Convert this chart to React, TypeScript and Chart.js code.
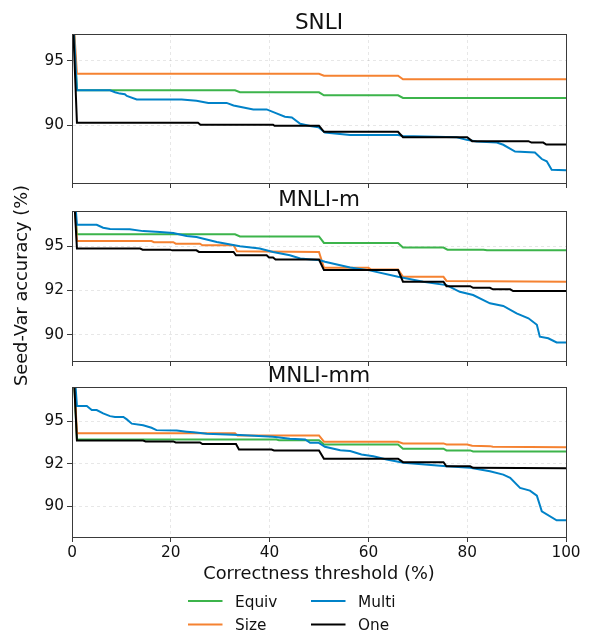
import React, { useEffect, useRef } from 'react';
import { Chart, registerables } from 'chart.js';

Chart.register(...registerables);

// ---------- data ----------
const seriesNames = ['Equiv', 'Size', 'Multi', 'One'];
const seriesColors = ['#3cb44b', '#f58231', '#0082c8', '#000000'];

const panelTitles = ['SNLI', 'MNLI-m', 'MNLI-mm'];
const xAxisTitle = 'Correctness threshold (%)';
const yAxisTitle = 'Seed-Var accuracy (%)';

const xTickValues = [0, 20, 40, 60, 80, 100];
const xTickLabels = ['0', '20', '40', '60', '80', '100'];

const snliTickValues = [90, 95];
const snliTickLabels = ['90', '95'];
const mnliTickValues = [90, 92.5, 95];
const mnliTickLabels = ['90', '92', '95'];

const snliRange = [85.55, 97.05];
const mnliMRange = [88.5, 97.0];
const mnliMMRange = [88.2, 97.0];

// SNLI
const snliEquivX = [0, 1, 33, 34, 50, 51, 66, 67, 100];
const snliEquivY = [100, 92.7, 92.7, 92.55, 92.55, 92.32, 92.32, 92.12, 92.12];
const snliSizeX = [0, 1, 50, 51, 66, 67, 100];
const snliSizeY = [100, 93.98, 93.98, 93.83, 93.83, 93.55, 93.55];
const snliMultiX = [0, 1, 7.7, 8.7, 9.7, 10.7, 11.1, 13.1, 22.2, 25.2, 27.6, 31.3, 32.7, 34.7, 36.7, 39.4, 41.4, 43.1, 44.5, 46.2, 48.2, 49.9, 51.2, 56.3, 66, 67, 77.9, 79.9, 81.9, 86, 87.3, 89.7, 93.7, 95.1, 96.1, 97.1, 100];
const snliMultiY = [100, 92.7, 92.7, 92.55, 92.45, 92.4, 92.27, 92.0, 92.0, 91.89, 91.73, 91.73, 91.53, 91.38, 91.23, 91.23, 90.92, 90.66, 90.6, 90.12, 89.95, 89.85, 89.44, 89.26, 89.26, 89.18, 89.08, 88.88, 88.75, 88.67, 88.5, 87.98, 87.9, 87.4, 87.22, 86.58, 86.53];
const snliOneX = [0, 1, 25.5, 26, 40.7, 41, 50, 51, 66, 67, 80, 81, 92.4, 93, 95.4, 96, 100];
const snliOneY = [100, 90.2, 90.2, 90.05, 90.05, 89.97, 89.97, 89.5, 89.5, 89.08, 89.08, 88.78, 88.78, 88.67, 88.67, 88.52, 88.52];

// MNLI-m
const mEquivX = [0, 1, 33, 34, 50, 51, 66, 67, 75.2, 76, 83.3, 84, 100];
const mEquivY = [100, 95.68, 95.68, 95.56, 95.56, 95.19, 95.19, 94.93, 94.93, 94.81, 94.81, 94.77, 94.77];
const mSizeX = [0, 1, 16.1, 16.6, 20.5, 21, 25.9, 26.4, 32.7, 33.4, 50, 51, 60, 60.5, 66, 67, 75.2, 75.8, 100];
const mSizeY = [100, 95.3, 95.3, 95.23, 95.23, 95.15, 95.15, 95.06, 95.06, 94.72, 94.68, 93.78, 93.78, 93.69, 93.69, 93.27, 93.27, 93.04, 92.99];
const mMultiX = [0, 1, 5, 6.3, 7.7, 11.7, 14.4, 17.8, 20.5, 23.2, 25.2, 29.3, 34, 38, 40.7, 44.1, 46.2, 50.2, 51.2, 56.3, 60, 66, 71.1, 75.8, 78.5, 81.2, 84.6, 87.3, 90, 92.4, 94.1, 94.7, 96.4, 98.1, 100];
const mMultiY = [100, 96.22, 96.22, 96.05, 95.98, 95.96, 95.86, 95.81, 95.75, 95.58, 95.53, 95.24, 95.0, 94.87, 94.68, 94.49, 94.31, 94.21, 94.12, 93.8, 93.65, 93.27, 92.99, 92.8, 92.42, 92.24, 91.77, 91.62, 91.2, 90.92, 90.55, 89.88, 89.79, 89.55, 89.55];
const mOneX = [0, 1, 13.8, 14.3, 19.8, 20.3, 25.2, 25.7, 32.7, 33.2, 39.4, 39.9, 40.7, 41.2, 50, 51, 66, 67, 75.2, 75.8, 80.6, 81.2, 84.6, 85.2, 88.7, 89.3, 100];
const mOneY = [100, 94.87, 94.87, 94.81, 94.81, 94.77, 94.77, 94.68, 94.68, 94.49, 94.49, 94.36, 94.36, 94.25, 94.25, 93.65, 93.65, 92.99, 92.99, 92.74, 92.74, 92.65, 92.65, 92.56, 92.56, 92.46, 92.46];

// MNLI-mm
const mmEquivX = [0, 1, 41.4, 41.9, 50, 51, 66, 67, 75.2, 75.8, 80.6, 81.2, 100];
const mmEquivY = [100, 93.92, 93.92, 93.88, 93.88, 93.63, 93.63, 93.38, 93.38, 93.28, 93.28, 93.22, 93.22];
const mmSizeX = [0, 1, 33, 33.5, 50, 51, 66, 67, 75.2, 75.8, 80, 81, 84.6, 85.2, 100];
const mmSizeY = [100, 94.28, 94.28, 94.16, 94.16, 93.79, 93.79, 93.69, 93.69, 93.63, 93.63, 93.55, 93.53, 93.49, 93.47];
const mmMultiX = [0, 1, 3, 4, 5, 6.3, 7.7, 8.7, 10.4, 11.1, 12.1, 14.4, 16.1, 17.1, 21.2, 23.2, 24.6, 27.3, 34, 40.7, 44.1, 47.2, 48.2, 49.9, 51.2, 54.3, 56.3, 58.6, 61, 63.7, 67.1, 75.8, 80.6, 84.6, 87.3, 88.7, 90.7, 92.7, 94.1, 95.1, 98.1, 100];
const mmMultiY = [100, 95.88, 95.88, 95.65, 95.65, 95.45, 95.29, 95.24, 95.24, 95.1, 94.85, 94.75, 94.61, 94.47, 94.45, 94.38, 94.34, 94.26, 94.18, 94.08, 93.96, 93.92, 93.73, 93.73, 93.49, 93.29, 93.24, 93.04, 92.94, 92.75, 92.55, 92.35, 92.26, 92.06, 91.86, 91.67, 91.08, 90.92, 90.63, 89.71, 89.18, 89.18];
const mmOneX = [0, 1, 14.4, 14.9, 20.5, 21, 25.9, 26.4, 33.2, 33.8, 40.4, 40.9, 50, 51, 66, 67, 75.2, 75.8, 80.6, 81.2, 100];
const mmOneY = [100, 93.86, 93.86, 93.81, 93.81, 93.75, 93.75, 93.65, 93.65, 93.33, 93.33, 93.28, 93.28, 92.79, 92.79, 92.59, 92.59, 92.35, 92.35, 92.26, 92.24];

const panels = [
  { title: panelTitles[0], range: snliRange, tickValues: snliTickValues, tickLabels: snliTickLabels,
    series: [[snliEquivX, snliEquivY], [snliSizeX, snliSizeY], [snliMultiX, snliMultiY], [snliOneX, snliOneY]] },
  { title: panelTitles[1], range: mnliMRange, tickValues: mnliTickValues, tickLabels: mnliTickLabels,
    series: [[mEquivX, mEquivY], [mSizeX, mSizeY], [mMultiX, mMultiY], [mOneX, mOneY]] },
  { title: panelTitles[2], range: mnliMMRange, tickValues: mnliTickValues, tickLabels: mnliTickLabels,
    series: [[mmEquivX, mmEquivY], [mmSizeX, mmSizeY], [mmMultiX, mmMultiY], [mmOneX, mmOneY]] },
];

// ---------- layout / style ----------
const W = 589;
const H = 632;
const FONT = "'DejaVu Sans', 'Liberation Sans', sans-serif";
const PLOT_LEFT = 72;
const PLOT_RIGHT = 566;
const panelBoxes = [[34, 183], [211, 361], [387, 537]];
const GRID = 'rgba(0,0,0,0.12)';
const SPINE = '#3a3a3a';
const TEXT = '#111';
const TICK_FONT = 15.3;
const LABEL_FONT = 17.8;
const TITLE_FONT = 21.5;
const LEGEND_FONT = 15.3;

function makeChart(canvas: HTMLCanvasElement, idx: number) {
  const p = panels[idx];
  const isLast = idx === panels.length - 1;
  const [top, bottom] = panelBoxes[idx];
  const xAxisH = isLast ? 22 : 5;

  const decor = {
    id: 'decor' + idx,
    afterDraw(chart: any) {
      const ctx = chart.ctx;
      const a = chart.chartArea;
      ctx.save();
      // frame
      ctx.strokeStyle = SPINE;
      ctx.lineWidth = 1;
      ctx.strokeRect(Math.round(a.left) + 0.5, Math.round(a.top) + 0.5,
        Math.round(a.right) - Math.round(a.left), Math.round(a.bottom) - Math.round(a.top));
      // title
      ctx.fillStyle = TEXT;
      ctx.font = `${TITLE_FONT}px ${FONT}`;
      ctx.textAlign = 'center';
      ctx.textBaseline = 'alphabetic';
      ctx.fillText(p.title, (a.left + a.right) / 2, a.top - 5.5);
      if (idx === 1) {
        ctx.save();
        ctx.font = `${LABEL_FONT}px ${FONT}`;
        ctx.translate(22.5, (panelBoxes[0][0] + panelBoxes[2][1]) / 2);
        ctx.rotate(-Math.PI / 2);
        ctx.textAlign = 'center';
        ctx.textBaseline = 'middle';
        ctx.fillText(yAxisTitle, 0, 0);
        ctx.restore();
      }
      if (isLast) {
        ctx.font = `${LABEL_FONT}px ${FONT}`;
        ctx.textAlign = 'center';
        ctx.textBaseline = 'alphabetic';
        ctx.fillText(xAxisTitle, (a.left + a.right) / 2, 578.5);
        // legend (2 columns, column-major)
        const colX = [188, 311];
        const rowY = [601, 624.5];
        ctx.font = `${LEGEND_FONT}px ${FONT}`;
        ctx.textAlign = 'left';
        seriesNames.forEach((name, i) => {
          const c = Math.floor(i / 2);
          const r = i % 2;
          const x0 = colX[c];
          const y0 = rowY[r];
          ctx.strokeStyle = seriesColors[i];
          ctx.lineWidth = 2;
          ctx.beginPath();
          ctx.moveTo(x0, y0);
          ctx.lineTo(x0 + 34.5, y0);
          ctx.stroke();
          ctx.fillStyle = TEXT;
          ctx.fillText(name, x0 + 47, y0 + 5.6);
        });
      }
      ctx.restore();
    },
  };

  return new Chart(canvas, {
    type: 'line',
    data: {
      datasets: p.series.map((s, i) => ({
        label: seriesNames[i],
        data: s[0].map((x: number, j: number) => ({ x, y: s[1][j] })),
        borderColor: seriesColors[i],
        backgroundColor: seriesColors[i],
        borderWidth: 2,
        pointRadius: 0,
        tension: 0,
        fill: false,
        order: 3 - i,
      })),
    },
    options: {
      responsive: false,
      animation: false,
      events: [],
      layout: { padding: { left: PLOT_LEFT - 47, right: W - PLOT_RIGHT, top, bottom: H - bottom - xAxisH } },
      plugins: { legend: { display: false }, title: { display: false }, tooltip: { enabled: false } },
      scales: {
        x: {
          type: 'linear',
          min: 0,
          max: 100,
          afterBuildTicks: (s: any) => { s.ticks = xTickValues.map((v) => ({ value: v })); },
          afterFit: (s: any) => { s.height = xAxisH; },
          ticks: {
            display: isLast,
            autoSkip: false,
            maxRotation: 0,
            padding: 2,
            color: TEXT,
            font: { family: FONT, size: TICK_FONT },
            callback: (_v: any, i: number) => xTickLabels[i],
          },
          grid: { color: GRID, lineWidth: 0.8, tickLength: 5, tickColor: SPINE, tickWidth: 1, tickBorderDash: [] },
          border: { display: true, color: SPINE, width: 1, dash: [3, 3] },
        },
        y: {
          type: 'linear',
          min: p.range[0],
          max: p.range[1],
          afterBuildTicks: (s: any) => { s.ticks = p.tickValues.map((v) => ({ value: v })); },
          afterFit: (s: any) => { s.width = 47; },
          ticks: {
            padding: 3,
            color: TEXT,
            font: { family: FONT, size: TICK_FONT },
            callback: (_v: any, i: number) => p.tickLabels[i],
          },
          grid: { color: GRID, lineWidth: 0.8, tickLength: 5, tickColor: SPINE, tickWidth: 1, tickBorderDash: [] },
          border: { display: true, color: SPINE, width: 1, dash: [3, 3] },
        },
      },
    },
    plugins: [decor],
  } as any);
}

export default function App() {
  const r0 = useRef<HTMLCanvasElement>(null);
  const r1 = useRef<HTMLCanvasElement>(null);
  const r2 = useRef<HTMLCanvasElement>(null);

  useEffect(() => {
    const refs = [r0, r1, r2];
    const charts = refs.map((r, i) => makeChart(r.current as HTMLCanvasElement, i));
    return () => charts.forEach((c) => c.destroy());
  }, []);

  const cs: React.CSSProperties = { position: 'absolute', left: 0, top: 0, width: W, height: H };
  return (
    <div style={{ position: 'absolute', left: 0, top: 0, width: W, height: H, background: '#fff' }}>
      <canvas ref={r0} width={W} height={H} style={cs} />
      <canvas ref={r1} width={W} height={H} style={cs} />
      <canvas ref={r2} width={W} height={H} style={cs} />
    </div>
  );
}
